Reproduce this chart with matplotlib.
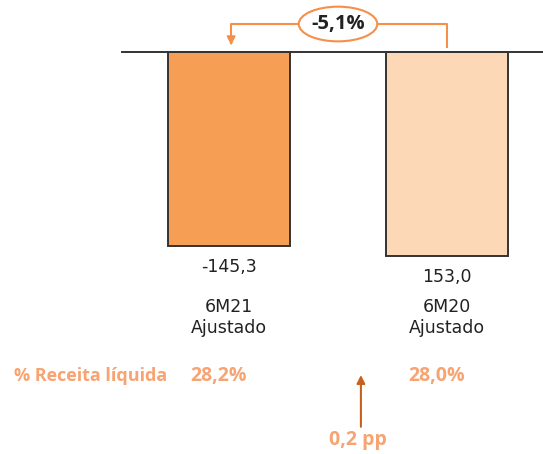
import matplotlib
matplotlib.use("Agg")
import matplotlib.pyplot as plt
from matplotlib.patches import Ellipse

# data
periods = ["6M21\nAjustado", "6M20\nAjustado"]
values = [-145.3, 153.0]
value_labels = ["-145,3", "153,0"]
margin_pct = ["28,2%", "28,0%"]
variation = "-5,1%"
margin_delta = "0,2 pp"

bar_colors = ["#F79E55", "#FDD8B6"]
orange = "#F58F4A"
text_orange = "#F7A472"

plt.rcParams["font.family"] = ["DejaVu Sans"]

fig = plt.figure(figsize=(5.43, 4.54), dpi=100)
ax = fig.add_axes([0, 0, 1, 1])
ax.set_xlim(-1.05, 1.44)
ax.set_ylim(-301.3, 39.0)
ax.axis("off")

x = list(range(len(values)))
heights = [-abs(v) for v in values]
ax.bar(x, heights, width=0.56, color=bar_colors, edgecolor="#333333", linewidth=1.4, zorder=2)
ax.plot([-0.49, 1.44], [0, 0], color="#333333", lw=1.4, zorder=3)

for xi, h, lab, per, pct in zip(x, heights, value_labels, periods, margin_pct):
    ax.text(xi, h - 16, lab, ha="center", va="center", fontsize=12.5, color="#222222")
    ax.text(xi, -199, per, ha="center", va="center", fontsize=12.5, color="#222222", linespacing=1.15)
    ax.text(xi - 0.046, -243, pct, ha="center", va="center", fontsize=14, color=text_orange,
            fontweight="bold", family="Open Sans")

ax.text(-0.987, -243, "% Receita líquida", ha="left", va="center", fontsize=13,
        color=text_orange, fontweight="bold", family="Open Sans")

# variation arrow between bars
top_y = 21
ax.plot([1.0, 1.0, 0.01, 0.01], [4, top_y, top_y, 9], color=orange, lw=1.5, zorder=3)
ax.annotate("", xy=(0.01, 3), xytext=(0.01, 10),
            arrowprops=dict(arrowstyle="-|>", color=orange, lw=1.5, mutation_scale=12))
ax.add_patch(Ellipse((0.5, top_y), 0.36, 26, facecolor="white", edgecolor=orange, lw=1.5, zorder=4))
ax.text(0.5, top_y, variation, ha="center", va="center", fontsize=14.5, fontweight="bold",
        color="#222222", zorder=5, family="Open Sans")

# margin change arrow
ax.annotate("", xy=(0.605, -240), xytext=(0.605, -283),
            arrowprops=dict(arrowstyle="-|>", color="#C8611E", lw=1.5, mutation_scale=12))
ax.text(0.59, -291, margin_delta, ha="center", va="center", fontsize=14, fontweight="bold",
        color=text_orange, family="Open Sans")

fig.savefig("out.png", dpi=100)
